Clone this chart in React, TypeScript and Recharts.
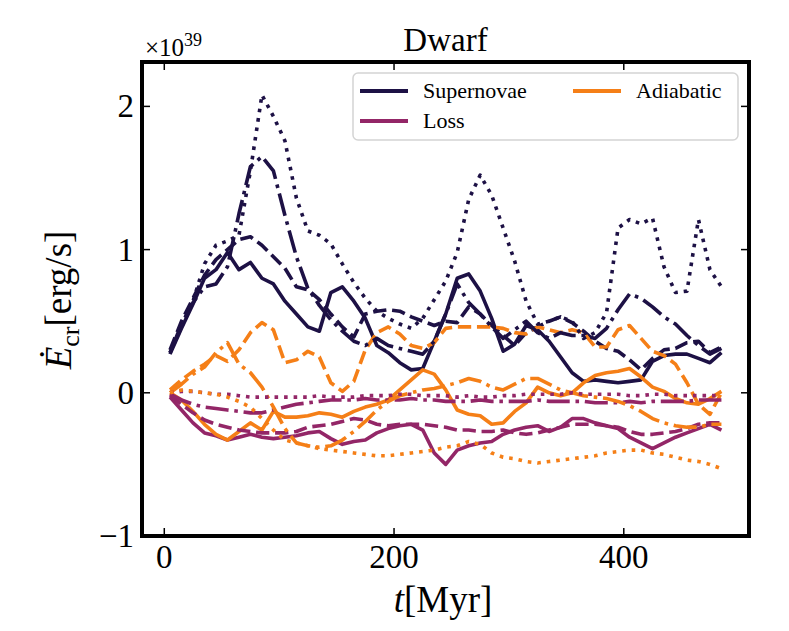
import React from "react";
import { LineChart, Line, XAxis, YAxis } from "recharts";

// simulation time in Myr
const TIME = [
  5, 15, 25, 35, 45, 55, 65, 75, 85, 95,
  105, 115, 125, 135, 145, 155, 165, 175, 185, 195,
  205, 215, 225, 235, 245, 255, 265, 275, 285, 295,
  305, 315, 325, 335, 345, 355, 365, 375, 385, 395,
  405, 415, 425, 435, 445, 455, 465, 475, 485,
];

// CR energy rates in units of 1e39 erg/s, one array per run
const SN_SOLID = [
  0.27, 0.45, 0.62, 0.8, 0.86, 0.98, 0.86, 0.91, 0.8, 0.76,
  0.64, 0.55, 0.46, 0.43, 0.7, 0.74, 0.64, 0.52, 0.33, 0.28,
  0.21, 0.16, 0.17, 0.36, 0.55, 0.8, 0.83, 0.71, 0.52, 0.29,
  0.34, 0.47, 0.44, 0.36, 0.25, 0.14, 0.08, 0.09, 0.08, 0.07,
  0.08, 0.09, 0.22, 0.26, 0.27, 0.27, 0.24, 0.21, 0.28,
];
const SN_DASHED = [
  0.3, 0.5, 0.66, 0.82, 0.93, 1.0, 1.07, 1.09, 1.03, 0.95,
  0.87, 0.74, 0.72, 0.65, 0.55, 0.46, 0.39, 0.55, 0.57, 0.58,
  0.57, 0.53, 0.5, 0.47, 0.5, 0.49, 0.6, 0.55, 0.47, 0.4,
  0.33, 0.42, 0.46, 0.5, 0.53, 0.49, 0.43, 0.36, 0.31, 0.29,
  0.23, 0.16, 0.24, 0.3, 0.31, 0.35, 0.36, 0.28, 0.32,
];
const SN_DASHDOT = [
  0.28, 0.48, 0.63, 0.74, 0.76, 0.88, 1.25, 1.58, 1.65, 1.55,
  1.24, 0.95, 0.73, 0.61, 0.51, 0.43, 0.36, 0.33, 0.38, 0.33,
  0.31, 0.29, 0.27, 0.36, 0.55, 0.76, 0.63, 0.55, 0.46, 0.38,
  0.44, 0.5, 0.42, 0.38, 0.42, 0.4, 0.4, 0.38, 0.45, 0.58,
  0.69, 0.66, 0.6, 0.53, 0.48, 0.4, 0.33, 0.27, 0.31,
];
const SN_DOTTED = [
  0.28, 0.46, 0.64, 0.9, 1.03, 1.06, 1.1, 1.55, 2.08, 1.93,
  1.76, 1.36, 1.13, 1.1, 1.04, 0.9, 0.77, 0.66, 0.57, 0.52,
  0.48, 0.45, 0.52, 0.65, 0.78, 0.98, 1.35, 1.52, 1.38, 1.15,
  0.92, 0.64, 0.48, 0.5, 0.53, 0.5, 0.38, 0.42, 0.56, 1.15,
  1.21, 1.18, 1.22, 0.88, 0.7, 0.71, 1.21, 0.86, 0.74,
];

const LOSS_SOLID = [
  -0.03, -0.12, -0.21, -0.28, -0.3, -0.33, -0.31, -0.29, -0.31, -0.32,
  -0.31, -0.3, -0.28, -0.27, -0.32, -0.36, -0.34, -0.33, -0.28, -0.25,
  -0.23, -0.22, -0.26, -0.42, -0.5, -0.4, -0.37, -0.35, -0.34, -0.29,
  -0.26, -0.24, -0.23, -0.27, -0.24, -0.18, -0.18, -0.21, -0.23, -0.25,
  -0.31, -0.35, -0.39, -0.35, -0.31, -0.28, -0.25, -0.22, -0.26,
];
const LOSS_DASHED = [
  -0.02, -0.08, -0.14, -0.19, -0.22, -0.24, -0.26, -0.27, -0.28, -0.28,
  -0.28, -0.27, -0.24, -0.23, -0.22, -0.2, -0.18, -0.19, -0.22, -0.23,
  -0.22, -0.22, -0.22, -0.23, -0.24, -0.26, -0.26, -0.27, -0.27, -0.26,
  -0.28, -0.29, -0.28, -0.26, -0.24, -0.22, -0.22, -0.22, -0.23, -0.24,
  -0.27, -0.29, -0.29, -0.28, -0.27, -0.25, -0.22, -0.21, -0.21,
];
const LOSS_DASHDOT = [
  -0.01, -0.05, -0.08, -0.1, -0.11, -0.12, -0.13, -0.14, -0.14, -0.12,
  -0.1, -0.08, -0.07, -0.06, -0.05, -0.05, -0.05, -0.04, -0.05, -0.05,
  -0.05, -0.04, -0.05, -0.05, -0.06, -0.06, -0.06, -0.05, -0.06, -0.06,
  -0.06, -0.06, -0.05, -0.06, -0.06, -0.06, -0.06, -0.07, -0.07, -0.07,
  -0.06, -0.07, -0.06, -0.06, -0.06, -0.06, -0.05, -0.05, -0.05,
];
const LOSS_DOTTED = [
  0.0, 0.01, 0.01, 0.0, -0.01, -0.01, -0.02, -0.03, -0.03, -0.03,
  -0.03, -0.03, -0.03, -0.02, -0.03, -0.03, -0.03, -0.02, -0.02, -0.02,
  -0.01, -0.01, -0.02, -0.02, -0.02, -0.03, -0.02, -0.03, -0.03, -0.02,
  -0.02, -0.01, -0.01, -0.01, -0.01, 0.0, -0.01, -0.01, -0.01, -0.01,
  -0.02, -0.02, -0.01, -0.01, -0.02, -0.02, -0.02, -0.02, -0.02,
];

const ADI_SOLID = [
  0.0, -0.05, -0.13, -0.22, -0.29, -0.33, -0.27, -0.21, -0.26, -0.13,
  -0.17, -0.17, -0.16, -0.14, -0.15, -0.17, -0.13, -0.1, -0.08, -0.05,
  0.02, 0.09, 0.16, 0.13, 0.02, -0.12, -0.15, -0.16, -0.22, -0.21,
  -0.13, -0.07, 0.04, 0.0, -0.02, 0.0, 0.07, 0.12, 0.14, 0.15,
  0.17, 0.11, 0.04, 0.01, -0.04, -0.07, -0.08, -0.04, 0.01,
];
const ADI_DASHED = [
  0.02, 0.09, 0.15, 0.2, 0.26, 0.22, 0.3, 0.42, 0.49, 0.44,
  0.21, 0.23, 0.29, 0.25, 0.07, 0.01, 0.08, 0.3, 0.42, 0.46,
  0.41, 0.33, 0.31, 0.35, 0.45, 0.46, 0.46, 0.46, 0.46, 0.45,
  0.42, 0.41, 0.46, 0.44, 0.42, 0.44, 0.42, 0.32, 0.32, 0.44,
  0.47, 0.38, 0.29, 0.26, 0.2, 0.07, -0.08, -0.15, 0.0,
];
const ADI_DASHDOT = [
  0.0, 0.06, 0.13, 0.18, 0.28, 0.35, 0.2, 0.14, 0.04, -0.1,
  -0.25, -0.35, -0.37, -0.38, -0.37, -0.33, -0.27, -0.2, -0.12, -0.06,
  -0.02, 0.0, 0.02, 0.03, 0.05, 0.07, 0.1, 0.08, 0.04, 0.02,
  0.06, 0.1, 0.1, 0.06, 0.02, 0.0, -0.02, -0.03, -0.04, -0.06,
  -0.09, -0.13, -0.18, -0.21, -0.23, -0.24, -0.24, -0.22, -0.22,
];
const ADI_DOTTED = [
  0.0, 0.02, 0.01, 0.0, -0.01, -0.03, -0.06, -0.1, -0.18, -0.26,
  -0.33, -0.35, -0.37, -0.39, -0.4, -0.41, -0.42, -0.43, -0.44, -0.44,
  -0.43, -0.42, -0.41, -0.4, -0.38, -0.37, -0.34, -0.36, -0.42, -0.45,
  -0.46, -0.48, -0.49, -0.48, -0.47, -0.46, -0.45, -0.44, -0.42, -0.41,
  -0.4, -0.4, -0.42, -0.43, -0.45, -0.47, -0.48, -0.5, -0.53,
];

const X_TICKS = [0, 200, 400];
const Y_TICKS = [-1, 0, 1, 2];

const SN_COLOR = "#1d1145";
const LOSS_COLOR = "#932667";
const ADI_COLOR = "#f57f17";

const FONT = "Liberation Serif, DejaVu Serif, serif";
const LW = 3.6;
const DASHES = {
  solid: undefined,
  dashed: `${3.7 * LW} ${1.6 * LW}`,
  dashdot: `${6.4 * LW} ${1.6 * LW} ${LW} ${1.6 * LW}`,
  dotted: `${LW} ${1.65 * LW}`,
};

// plot box inside the 789x631 figure
const W = 789;
const H = 631;
const PLOT_LEFT = 142;
const PLOT_RIGHT = 749;
const PLOT_TOP = 62;
const PLOT_BOTTOM = 536;
const TICK_LEN = 8;

const SERIES = [
  { key: "snSolid", values: SN_SOLID, color: SN_COLOR, dash: DASHES.solid },
  { key: "lossSolid", values: LOSS_SOLID, color: LOSS_COLOR, dash: DASHES.solid },
  { key: "adiSolid", values: ADI_SOLID, color: ADI_COLOR, dash: DASHES.solid },
  { key: "snDashed", values: SN_DASHED, color: SN_COLOR, dash: DASHES.dashed },
  { key: "lossDashed", values: LOSS_DASHED, color: LOSS_COLOR, dash: DASHES.dashed },
  { key: "adiDashed", values: ADI_DASHED, color: ADI_COLOR, dash: DASHES.dashed },
  { key: "snDashdot", values: SN_DASHDOT, color: SN_COLOR, dash: DASHES.dashdot },
  { key: "lossDashdot", values: LOSS_DASHDOT, color: LOSS_COLOR, dash: DASHES.dashdot },
  { key: "adiDashdot", values: ADI_DASHDOT, color: ADI_COLOR, dash: DASHES.dashdot },
  { key: "snDotted", values: SN_DOTTED, color: SN_COLOR, dash: DASHES.dotted },
  { key: "lossDotted", values: LOSS_DOTTED, color: LOSS_COLOR, dash: DASHES.dotted },
  { key: "adiDotted", values: ADI_DOTTED, color: ADI_COLOR, dash: DASHES.dotted },
];

const LEGEND_ITEMS = [
  { label: "Supernovae", color: SN_COLOR, col: 0, row: 0 },
  { label: "Loss", color: LOSS_COLOR, col: 0, row: 1 },
  { label: "Adiabatic", color: ADI_COLOR, col: 1, row: 0 },
];

const data = TIME.map((t, i) => {
  const row: { [key: string]: number } = { t };
  SERIES.forEach((s) => {
    row[s.key] = s.values[i];
  });
  return row;
});

const fmt = (v: number) => (v < 0 ? `\u2212${-v}` : `${v}`);

// ticks point inwards on all four sides, like the matplotlib original
const XTick = (props: any) => {
  const { x, payload } = props;
  return (
    <g>
      <line x1={x} x2={x} y1={PLOT_BOTTOM} y2={PLOT_BOTTOM - TICK_LEN} stroke="#000" strokeWidth={1.5} />
      <line x1={x} x2={x} y1={PLOT_TOP} y2={PLOT_TOP + TICK_LEN} stroke="#000" strokeWidth={1.5} />
      <text x={x} y={PLOT_BOTTOM + 32} textAnchor="middle" fontSize={33} fontFamily={FONT} fill="#000">
        {fmt(payload.value)}
      </text>
    </g>
  );
};

const YTick = (props: any) => {
  const { y, payload } = props;
  return (
    <g>
      <line x1={PLOT_LEFT} x2={PLOT_LEFT + TICK_LEN} y1={y} y2={y} stroke="#000" strokeWidth={1.5} />
      <line x1={PLOT_RIGHT} x2={PLOT_RIGHT - TICK_LEN} y1={y} y2={y} stroke="#000" strokeWidth={1.5} />
      <text x={PLOT_LEFT - 8} y={y + 11} textAnchor="end" fontSize={33} fontFamily={FONT} fill="#000">
        {fmt(payload.value)}
      </text>
    </g>
  );
};

const LegendBox = () => (
  <g>
    <rect x={353} y={73} width={385} height={67} rx={5} fill="#fff" fillOpacity={0.8} stroke="#d4d4d4" strokeWidth={1.5} />
    {LEGEND_ITEMS.map((item) => {
      const left = item.col === 0 ? 360 : 573;
      const cy = item.row === 0 ? 91 : 121;
      return (
        <g key={item.label}>
          <line x1={left} x2={left + 48} y1={cy} y2={cy} stroke={item.color} strokeWidth={4} />
          <text x={left + 63} y={cy + 7} fontSize={22}>
            {item.label}
          </text>
        </g>
      );
    })}
  </g>
);

export default function App() {
  return (
    <div style={{ position: "absolute", left: 0, top: 0, width: W, height: H, background: "#fff", fontFamily: FONT }}>
      <LineChart
        width={W}
        height={H}
        data={data}
        margin={{ top: PLOT_TOP, right: W - PLOT_RIGHT, bottom: 0, left: 0 }}
      >
        <XAxis
          dataKey="t"
          type="number"
          domain={[-19.4, 509]}
          ticks={X_TICKS}
          interval={0}
          allowDataOverflow
          height={H - PLOT_BOTTOM}
          axisLine={false}
          tickLine={false}
          tickSize={0}
          tick={(p: any) => <XTick {...p} />}
        />
        <YAxis
          type="number"
          domain={[-1, 2.31]}
          ticks={Y_TICKS}
          interval={0}
          allowDataOverflow
          width={PLOT_LEFT}
          axisLine={false}
          tickLine={false}
          tickSize={0}
          tick={(p: any) => <YTick {...p} />}
        />
        {SERIES.map((s) => (
          <Line
            key={s.key}
            type="linear"
            dataKey={s.key}
            stroke={s.color}
            strokeWidth={LW}
            strokeDasharray={s.dash}
            strokeLinejoin="round"
            dot={false}
            activeDot={false}
            isAnimationActive={false}
          />
        ))}
      </LineChart>
      <svg
        width={W}
        height={H}
        style={{ position: "absolute", left: 0, top: 0, pointerEvents: "none" }}
        fontFamily={FONT}
      >
        <rect
          x={PLOT_LEFT}
          y={PLOT_TOP}
          width={PLOT_RIGHT - PLOT_LEFT}
          height={PLOT_BOTTOM - PLOT_TOP}
          fill="none"
          stroke="#000"
          strokeWidth={4}
        />
        <LegendBox />
        <text x={(PLOT_LEFT + PLOT_RIGHT) / 2} y={51} textAnchor="middle" fontSize={33}>
          Dwarf
        </text>
        <text x={145} y={56} fontSize={25}>
          {"\u00d710"}
          <tspan dy={-10} fontSize={18}>
            39
          </tspan>
        </text>
        <text x={443} y={612} textAnchor="middle" fontSize={37}>
          <tspan fontStyle="italic">t</tspan>[Myr]
        </text>
        <text transform="translate(71,300) rotate(-90)" textAnchor="middle" fontSize={37}>
          <tspan fontStyle="italic">{"\u0116"}</tspan>
          <tspan fontSize={26} dy={8}>
            cr
          </tspan>
          <tspan dy={-8}>[erg/s]</tspan>
        </text>
      </svg>
    </div>
  );
}
